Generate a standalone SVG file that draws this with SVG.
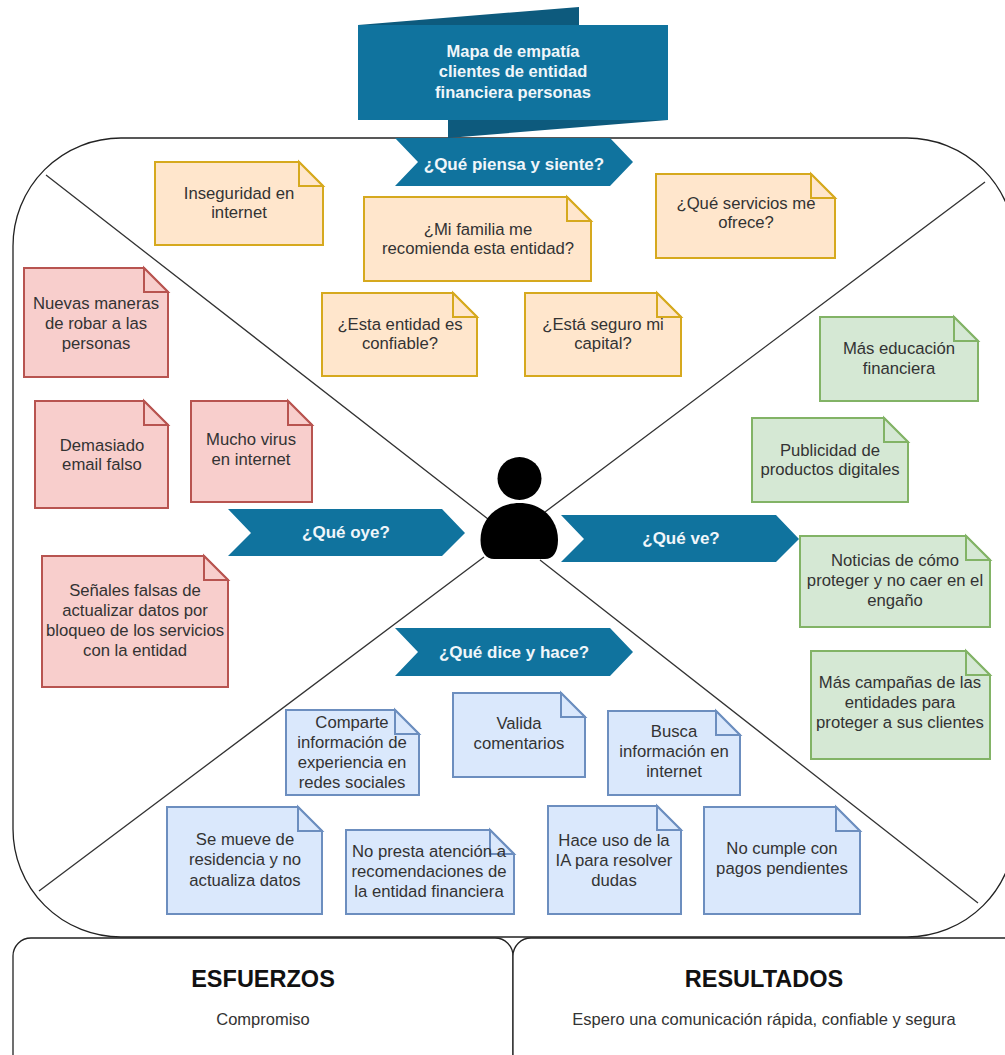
<svg xmlns="http://www.w3.org/2000/svg" width="1005" height="1055" viewBox="0 0 1005 1055">
<style>
text{font-family:"Liberation Sans",Arial,sans-serif;font-size:16.7px;fill:#333;text-anchor:middle}
.w{fill:#f0f6fa;font-weight:bold}
.t{font-size:16.5px}
.h{font-size:17px}
.ln{fill:none;stroke:#333;stroke-width:1.3}
.b{fill:#fff;stroke:#222;stroke-width:1.3}
.ar{fill:#10739e}
.dk{fill:#0d5a7d}
.y{fill:#ffe6cc;stroke:#d6a91e;stroke-width:2}
.r{fill:#f8cecc;stroke:#b85450;stroke-width:2}
.g{fill:#d5e8d4;stroke:#82b366;stroke-width:2}
.bl{fill:#dae8fc;stroke:#6c8ebf;stroke-width:2}
.lbl{font-size:23.5px;font-weight:bold;fill:#111}
</style>
<g id="board"><rect class="b" x="13" y="138" width="1002" height="799" rx="108" ry="108"/></g>
<g id="connectors">
<path class="ln" d="M46 175L488 519M985 182L545 512M39 891L484 557M978 903L540 560"/>
</g>
<g id="title"><path class="dk" d="M358 25L579 7V30H358ZM448 120H668L448 138Z"/><rect class="ar" x="358" y="25" width="310" height="95"/>
<text class="w t" x="513" y="57">Mapa de empatía</text><text class="w t" x="513" y="77">clientes de entidad</text><text class="w t" x="513" y="98">financiera personas</text></g>
<g id="arrow-piensa"><path class="ar" d="M395 138H610L633 162L610 186H395L418 162Z"/><text class="w h" x="514" y="170">¿Qué piensa y siente?</text></g>
<g id="arrow-oye"><path class="ar" d="M228 509H442L465 533L442 556H228L251 533Z"/><text class="w h" x="346" y="538">¿Qué oye?</text></g>
<g id="arrow-ve"><path class="ar" d="M561 515H776L799 539L776 562H561L584 539Z"/><text class="w h" x="681" y="544">¿Qué ve?</text></g>
<g id="arrow-dice"><path class="ar" d="M395 628H610L633 652L610 676H395L418 652Z"/><text class="w h" x="514" y="658">¿Qué dice y hace?</text></g>
<g id="person"><ellipse cx="519.5" cy="478.5" rx="22" ry="21.5"/><path d="M480.500 540C480.500 518 498 503 519.500 503C541 503 558 518 558 540C558 552 553 559 545 559H494C486 559 480.500 552 480.500 540Z"/></g>

<g id="y1"><path class="y" d="M155 162H299L323 186V245H155Z"/><path class="y" d="M299 162V186H323Z"/><text x="239" y="199">Inseguridad en</text><text x="239" y="218">internet</text></g>
<g id="y2"><path class="y" d="M364 197H567L591 221V281H364Z"/><path class="y" d="M567 197V221H591Z"/><text x="478" y="235">¿Mi familia me</text><text x="478" y="254">recomienda esta entidad?</text></g>
<g id="y3"><path class="y" d="M656 174H811L835 198V258H656Z"/><path class="y" d="M811 174V198H835Z"/><text x="746" y="209">¿Qué servicios me</text><text x="746" y="228">ofrece?</text></g>
<g id="y4"><path class="y" d="M322 293H453L477 317V376H322Z"/><path class="y" d="M453 293V317H477Z"/><text x="400" y="330">¿Esta entidad es</text><text x="400" y="349">confiable?</text></g>
<g id="y5"><path class="y" d="M525 293H657L681 317V376H525Z"/><path class="y" d="M657 293V317H681Z"/><text x="603" y="330">¿Está seguro mi</text><text x="603" y="349">capital?</text></g>

<g id="r1"><path class="r" d="M24 268H144L168 292V377H24Z"/><path class="r" d="M144 268V292H168Z"/><text x="96" y="309">Nuevas maneras</text><text x="96" y="329">de robar a las</text><text x="96" y="349">personas</text></g>
<g id="r2"><path class="r" d="M35 401H144L168 425V508H35Z"/><path class="r" d="M144 401V425H168Z"/><text x="102" y="451">Demasiado</text><text x="102" y="470">email falso</text></g>
<g id="r3"><path class="r" d="M191 401H288L312 425V502H191Z"/><path class="r" d="M288 401V425H312Z"/><text x="251" y="445">Mucho virus</text><text x="251" y="465">en internet</text></g>
<g id="r4"><path class="r" d="M42 556H204L228 580V687H42Z"/><path class="r" d="M204 556V580H228Z"/><text x="135" y="596">Señales falsas de</text><text x="135" y="616">actualizar datos por</text><text x="135" y="636">bloqueo de los servicios</text><text x="135" y="656">con la entidad</text></g>

<g id="g1"><path class="g" d="M820 317H954L978 341V401H820Z"/><path class="g" d="M954 317V341H978Z"/><text x="899" y="354">Más educación</text><text x="899" y="374">financiera</text></g>
<g id="g2"><path class="g" d="M752 418H884L908 442V502H752Z"/><path class="g" d="M884 418V442H908Z"/><text x="830" y="456">Publicidad de</text><text x="830" y="475">productos digitales</text></g>
<g id="g3"><path class="g" d="M800 536H966L990 560V627H800Z"/><path class="g" d="M966 536V560H990Z"/><text x="895" y="566">Noticias de cómo</text><text x="895" y="586">proteger y no caer en el</text><text x="895" y="606">engaño</text></g>
<g id="g4"><path class="g" d="M811 651H966L990 675V759H811Z"/><path class="g" d="M966 651V675H990Z"/><text x="900" y="688">Más campañas de las</text><text x="900" y="708">entidades para</text><text x="900" y="728">proteger a sus clientes</text></g>

<g id="b1"><path class="bl" d="M286 710H395L419 734V795H286Z"/><path class="bl" d="M395 710V734H419Z"/><text x="352" y="728">Comparte</text><text x="352" y="748">información de</text><text x="352" y="768">experiencia en</text><text x="352" y="788">redes sociales</text></g>
<g id="b2"><path class="bl" d="M453 693H561L585 717V777H453Z"/><path class="bl" d="M561 693V717H585Z"/><text x="519" y="729">Valida</text><text x="519" y="749">comentarios</text></g>
<g id="b3"><path class="bl" d="M608 711H716L740 735V795H608Z"/><path class="bl" d="M716 711V735H740Z"/><text x="674" y="737">Busca</text><text x="674" y="757">información en</text><text x="674" y="777">internet</text></g>
<g id="b4"><path class="bl" d="M167 807H298L322 831V914H167Z"/><path class="bl" d="M298 807V831H322Z"/><text x="245" y="845">Se mueve de</text><text x="245" y="865">residencia y no</text><text x="245" y="886">actualiza datos</text></g>
<g id="b5"><path class="bl" d="M346 830H490L514 854V914H346Z"/><path class="bl" d="M490 830V854H514Z"/><text x="429" y="857">No presta atención a</text><text x="429" y="877">recomendaciones de</text><text x="429" y="897">la entidad financiera</text></g>
<g id="b6"><path class="bl" d="M548 806H657L681 830V914H548Z"/><path class="bl" d="M657 806V830H681Z"/><text x="614" y="846">Hace uso de la</text><text x="614" y="866">IA para resolver</text><text x="614" y="886">dudas</text></g>
<g id="b7"><path class="bl" d="M704 807H836L860 831V914H704Z"/><path class="bl" d="M836 807V831H860Z"/><text x="782" y="854">No cumple con</text><text x="782" y="874">pagos pendientes</text></g>

<g id="esfuerzos"><rect class="b" x="13" y="938" width="500" height="140" rx="18"/><text class="lbl" x="263" y="987">ESFUERZOS</text><text class="t" x="263" y="1025">Compromiso</text></g>
<g id="resultados"><rect class="b" x="513" y="938" width="510" height="140" rx="18"/><text class="lbl" x="764" y="987">RESULTADOS</text><text class="t" x="764" y="1025">Espero una comunicación rápida, confiable y segura</text></g>
</svg>
